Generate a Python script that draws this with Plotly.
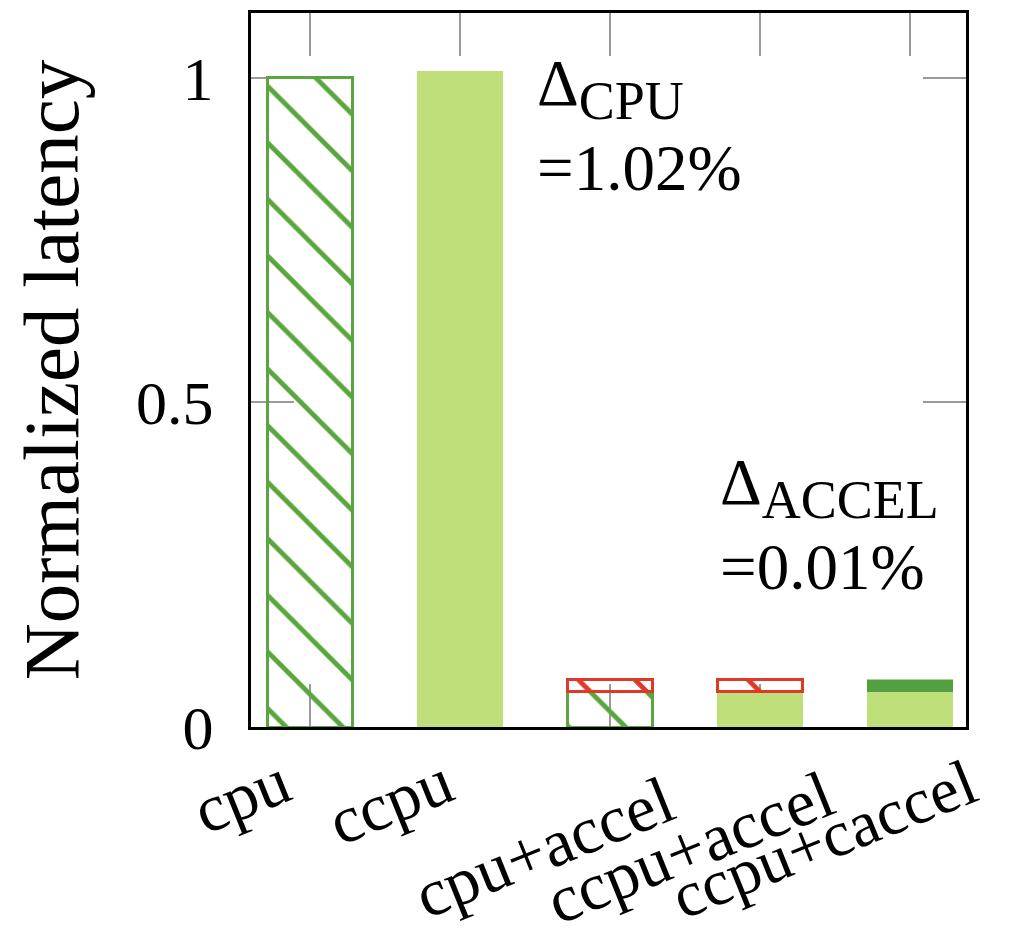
import plotly.graph_objects as go

# ---- data ----
categories = ["cpu", "ccpu", "cpu+accel", "ccpu+accel", "ccpu+caccel"]
base_latency = [1.0, 1.0102, 0.054, 0.054, 0.054]       # lower segment
extra_latency = [0.0, 0.0, 0.019, 0.019, 0.019]         # upper segment
y_tick_vals = [0, 0.5, 1]
y_tick_text = ["0", "0.5", "1"]
delta_cpu_text = "Δ<sub><span style='font-size:54px'>CPU</span></sub><br>=1.02%"
delta_accel_text = "Δ<sub><span style='font-size:54px'>ACCEL</span></sub><br>=0.01%"

# ---- styles ----
GREEN = "rgb(90,166,62)"
LIGHT = "rgb(191,223,122)"
DARK = "rgb(84,160,64)"
RED = "rgb(222,58,42)"
FONT = "Liberation Serif"

base_colors = [GREEN, LIGHT, GREEN, LIGHT, LIGHT]
base_shapes = ["\\", "", "\\", "", ""]
base_lw = [3, 0.5, 3, 0.5, 0.5]
extra_colors = [RED, RED, RED, RED, DARK]
extra_shapes = ["\\", "\\", "\\", "\\", ""]
extra_lw = [0, 0, 3, 3, 0.5]

fig = go.Figure()
fig.add_trace(go.Bar(
    x=categories, y=base_latency, width=0.57,
    marker=dict(color=base_colors,
                line=dict(color=base_colors, width=base_lw),
                pattern=dict(shape=base_shapes, fillmode="replace",
                             size=40, solidity=0.12)),
    showlegend=False,
))
fig.add_trace(go.Bar(
    x=categories, y=extra_latency, width=0.57,
    marker=dict(color=extra_colors,
                line=dict(color=extra_colors, width=extra_lw),
                pattern=dict(shape=extra_shapes, fillmode="replace",
                             size=40, solidity=0.12)),
    showlegend=False,
))

# x labels as rotated annotations (pixel offsets from the tick position)
label_dx = [-68, -70, -66, -70, -86]
label_dy = [-68, -74, -120, -120, -112]
label_size = [67, 67, 67, 67, 65]
annotations = []
for c, dx, dy, fs in zip(categories, label_dx, label_dy, label_size):
    annotations.append(dict(
        x=c, y=0, xref="x", yref="y", text=c, showarrow=False,
        textangle=-22, xanchor="center", yanchor="middle",
        xshift=dx, yshift=dy, borderpad=0,
        font=dict(family=FONT, size=fs, color="black")))

annotations.append(dict(
    x=0.397, y=0.955, xref="paper", yref="paper", text=delta_cpu_text,
    showarrow=False, xanchor="left", yanchor="top", align="left",
    font=dict(family=FONT, size=65, color="black")))
annotations.append(dict(
    x=0.653, y=0.397, xref="paper", yref="paper", text=delta_accel_text,
    showarrow=False, xanchor="left", yanchor="top", align="left",
    font=dict(family=FONT, size=65, color="black")))

fig.update_layout(
    width=1019, height=937,
    margin=dict(l=243, r=61, t=2, b=218),
    paper_bgcolor="white", plot_bgcolor="white",
    barmode="stack",
    annotations=annotations,
    xaxis=dict(
        range=[-0.393, 4.373], showgrid=False, zeroline=False,
        showline=True, linecolor="black", linewidth=3, mirror="ticks",
        ticks="inside", ticklen=43, tickwidth=2, tickcolor="#9a9a9a",
        showticklabels=False, layer="below traces",
    ),
    yaxis=dict(
        range=[0, 1.1], showgrid=False, zeroline=False,
        showline=True, linecolor="black", linewidth=3, mirror="ticks",
        ticks="inside", ticklen=43, tickwidth=2, tickcolor="#9a9a9a",
        tickvals=y_tick_vals, ticktext=y_tick_text,
        tickfont=dict(family=FONT, size=62, color="black"),
        ticklabelstandoff=22, layer="below traces",
        title=dict(text="Normalized latency", standoff=36,
                   font=dict(family=FONT, size=79, color="black")),
    ),
)

fig.write_html("out.html")
